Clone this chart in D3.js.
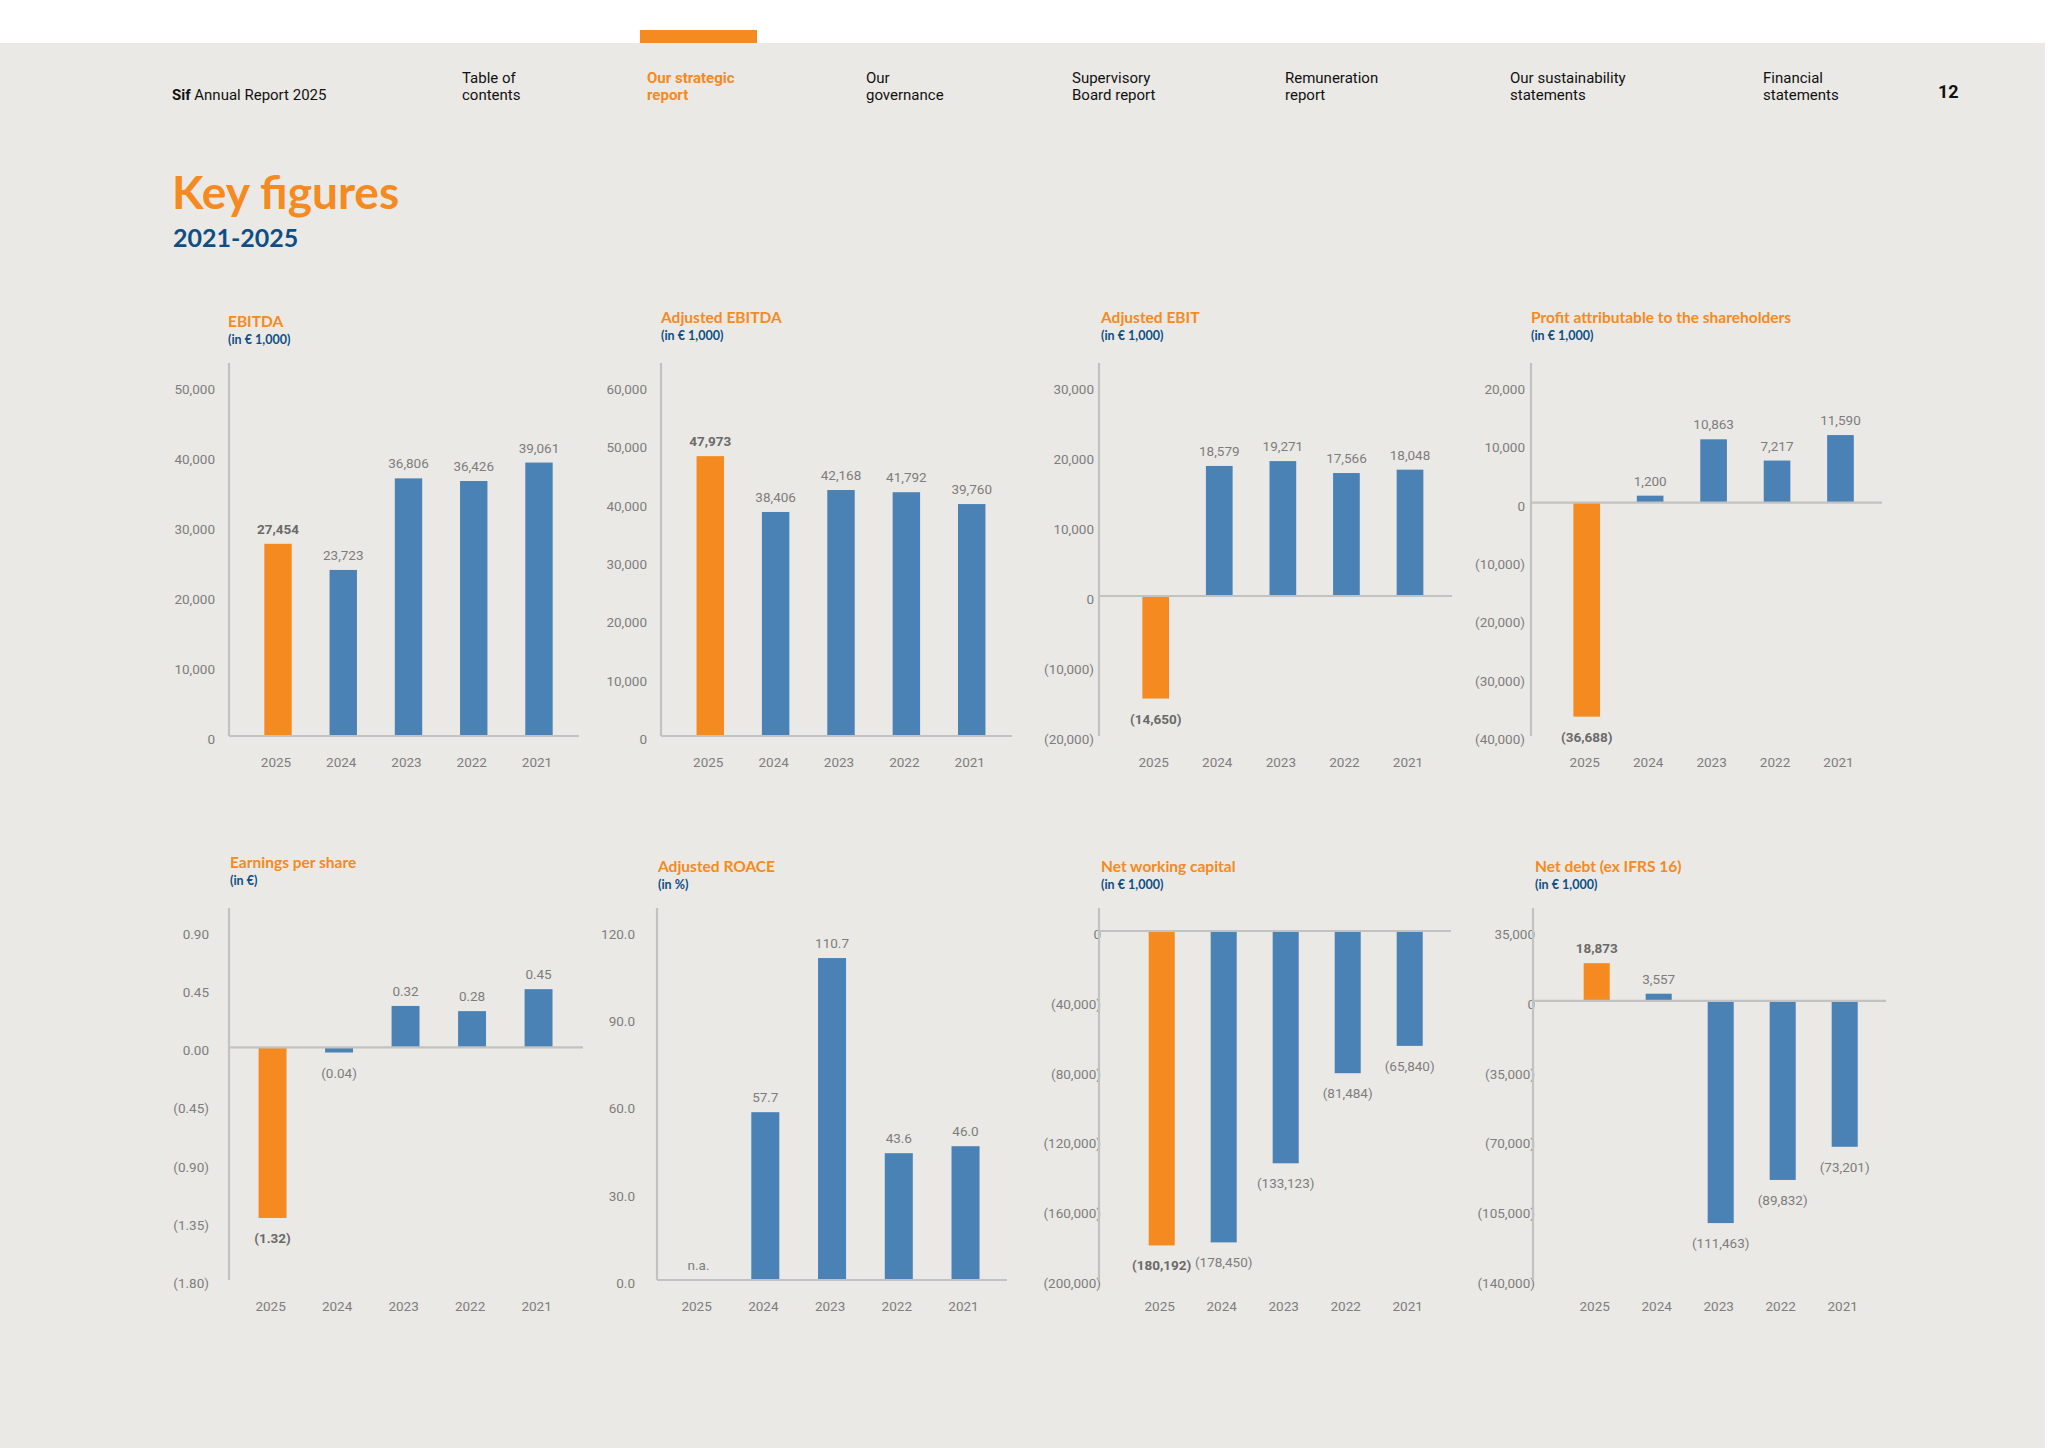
<!DOCTYPE html>
<html>
<head>
<meta charset="utf-8">
<script src="https://cdn.jsdelivr.net/npm/d3@7/dist/d3.min.js"></script>
<style>
  body { margin: 0; background: #fff; }
  svg { display: block; }
</style>
</head>
<body>
<svg width="2048" height="1448"></svg>
<script>
// data
var years = ["2025", "2024", "2023", "2022", "2021"]

var ebitda = [27454, 23723, 36806, 36426, 39061]
var adjEbitda = [47973, 38406, 42168, 41792, 39760]
var adjEbit = [-14650, 18579, 19271, 17566, 18048]
var profit = [-36688, 1200, 10863, 7217, 11590]
var eps = [-1.32, -0.04, 0.32, 0.28, 0.45]
var roace = [null, 57.7, 110.7, 43.6, 46.0]
var nwc = [-180192, -178450, -133123, -81484, -65840]
var netDebt = [18873, 3557, -111463, -89832, -73201]

var ebitdaTicks = [0, 10000, 20000, 30000, 40000, 50000]
var adjEbitdaTicks = [0, 10000, 20000, 30000, 40000, 50000, 60000]
var adjEbitTicks = [-20000, -10000, 0, 10000, 20000, 30000]
var profitTicks = [-40000, -30000, -20000, -10000, 0, 10000, 20000]
var epsTicks = [-1.8, -1.35, -0.9, -0.45, 0, 0.45, 0.9]
var roaceTicks = [0, 30, 60, 90, 120]
var nwcTicks = [-200000, -160000, -120000, -80000, -40000, 0]
var netDebtTicks = [-140000, -105000, -70000, -35000, 0, 35000]

var navItems = [
  ["Table of", "contents"],
  ["Our strategic", "report"],
  ["Our", "governance"],
  ["Supervisory", "Board report"],
  ["Remuneration", "report"],
  ["Our sustainability", "statements"],
  ["Financial", "statements"]
]

var paren = f => v => v < 0 ? "(" + f(-v) + ")" : f(v)
var fmt0 = paren(d3.format(",.0f")),
  fmt1 = paren(d3.format(".1f")),
  fmt2 = paren(d3.format(".2f"))

var charts = [
  { title: "EBITDA", unit: "(in € 1,000)", values: ebitda, ticks: ebitdaTicks, fmt: fmt0 },
  { title: "Adjusted EBITDA", unit: "(in € 1,000)", values: adjEbitda, ticks: adjEbitdaTicks, fmt: fmt0 },
  { title: "Adjusted EBIT", unit: "(in € 1,000)", values: adjEbit, ticks: adjEbitTicks, fmt: fmt0 },
  { title: "Profit attributable to the shareholders", unit: "(in € 1,000)", values: profit, ticks: profitTicks, fmt: fmt0 },
  { title: "Earnings per share", unit: "(in €)", values: eps, ticks: epsTicks, fmt: fmt2 },
  { title: "Adjusted ROACE", unit: "(in %)", values: roace, ticks: roaceTicks, fmt: fmt1 },
  { title: "Net working capital", unit: "(in € 1,000)", values: nwc, ticks: nwcTicks, fmt: fmt0 },
  { title: "Net debt (ex IFRS 16)", unit: "(in € 1,000)", values: netDebt, ticks: netDebtTicks, fmt: fmt0 }
]

// page layout (pixels)
var rows = [
  { bottom: 736, top: 386 },
  { bottom: 1280, top: 931 }
]
var layout = [
  { row: 0, ax: 229, ae: 579, b0: 245.4, b1: 571.6, lx: -14, tx: 228, ty: 327 },
  { row: 0, ax: 661, ae: 1012, b0: 677.6, b1: 1004.4, lx: -14, tx: 661, ty: 323 },
  { row: 0, ax: 1099, ae: 1452, b0: 1123.9, b1: 1441.8, lx: -5, tx: 1101, ty: 323 },
  { row: 0, ax: 1531, ae: 1882, b0: 1555, b1: 1872.2, lx: -6, tx: 1531, ty: 323 },
  { row: 1, ax: 229, ae: 583, b0: 239.3, b1: 571.8, lx: -20, tx: 230, ty: 868 },
  { row: 1, ax: 657, ae: 1007, b0: 665.2, b1: 998.9, lx: -22, tx: 658, ty: 872 },
  { row: 1, ax: 1099, ae: 1451, b0: 1130.7, b1: 1440.7, lx: 2, tx: 1101, ty: 872 },
  { row: 1, ax: 1533, ae: 1886, b0: 1565.7, b1: 1875.7, lx: 2, tx: 1535, ty: 872 }
]

var orange = "#F58A20",
  blue = "#4A82B5",
  navy = "#0D4F84",
  grey = "#7d7d7d",
  axisGrey = "#c2c2c2",
  numFont = "Roboto, 'Liberation Sans', sans-serif",
  headFont = "Lato, 'Open Sans', sans-serif"

var svg = d3.select("svg")

// page background + header band
svg.append("rect").attr("width", 2048).attr("height", 1448).attr("fill", "#EBE9E6")
svg.append("rect").attr("width", 2048).attr("height", 43).attr("fill", "#fff")
svg.append("rect").attr("x", 2045).attr("width", 3).attr("height", 1448).attr("fill", "#fff")
svg.append("rect").attr("x", 640).attr("y", 30).attr("width", 117).attr("height", 13)
  .attr("fill", orange)

var brand = svg.append("text")
  .attr("x", 172).attr("y", 100)
  .style("font-family", numFont).style("font-size", "15px").attr("fill", "#111")
brand.append("tspan").style("font-weight", 700).text("Sif")
brand.append("tspan").text(" Annual Report 2025")

var navX = [462, 647, 866, 1072, 1285, 1510, 1763]
navItems.forEach((lines, i) => {
  let t = svg.append("text")
    .attr("x", navX[i]).attr("y", 83)
    .style("font-family", numFont).style("font-size", "15px")
    .style("font-weight", i == 1 ? 700 : 400)
    .attr("fill", i == 1 ? orange : "#111")
  lines.forEach((l, j) => {
    t.append("tspan").attr("x", navX[i]).attr("y", 83 + j * 17).text(l)
  })
})

svg.append("text").attr("x", 1938).attr("y", 98)
  .style("font-family", numFont).style("font-size", "18px").style("font-weight", 700)
  .attr("fill", "#111").text("12")

svg.append("text").attr("x", 172).attr("y", 209)
  .style("font-family", headFont).style("font-size", "46px").style("font-weight", 700)
  .attr("fill", orange).text("Key figures")

svg.append("text").attr("x", 173).attr("y", 247)
  .style("font-family", headFont).style("font-size", "25px").style("font-weight", 700)
  .attr("fill", navy).text("2021-2025")

charts.forEach((c, i) => {
  let L = layout[i], R = rows[L.row]
  let g = svg.append("g")

  let x = d3.scaleBand().domain(years).range([L.b0, L.b1])
    .paddingInner(0.58).paddingOuter(0.29)
  let y = d3.scaleLinear().domain(d3.extent(c.ticks)).range([R.bottom, R.top])

  g.append("text").attr("x", L.tx).attr("y", L.ty)
    .style("font-family", headFont).style("font-size", "15.5px").style("font-weight", 700)
    .attr("fill", orange).text(c.title)
  g.append("text").attr("x", L.tx).attr("y", L.ty + 17)
    .style("font-family", headFont).style("font-size", "12.5px").style("font-weight", 700)
    .attr("fill", navy).text(c.unit)

  let yAxis = g.append("g")
    .attr("transform", `translate(${L.ax + L.lx},0)`)
    .call(d3.axisLeft(y).tickValues(c.ticks).tickSize(0).tickPadding(0).tickFormat(c.fmt))
  yAxis.select(".domain").remove()
  yAxis.attr("font-family", numFont).attr("font-size", 13.5).style("color", grey)
  yAxis.selectAll("text").attr("dy", "0.55em")

  let xAxis = g.append("g")
    .attr("transform", `translate(-2,${R.bottom + 31})`)
    .call(d3.axisBottom(x).tickSize(0).tickPadding(0))
  xAxis.select(".domain").remove()
  xAxis.attr("font-family", numFont).attr("font-size", 13.5).style("color", grey)
  xAxis.selectAll("text").attr("dy", 0)

  let data = years.map((yr, k) => ({ year: yr, v: c.values[k], k: k }))

  g.selectAll(".bar").data(data.filter(d => d.v != null)).enter()
    .append("rect").attr("class", "bar")
    .attr("x", d => x(d.year))
    .attr("width", x.bandwidth())
    .attr("y", d => d.v >= 0 ? y(d.v) : y(0))
    .attr("height", d => Math.abs(y(d.v) - y(0)))
    .attr("fill", d => d.k == 0 ? orange : blue)

  g.selectAll(".val").data(data).enter()
    .append("text").attr("class", "val")
    .attr("x", d => x(d.year) + x.bandwidth() / 2)
    .attr("y", d => d.v == null ? y(0) - 10 : d.v >= 0 ? y(d.v) - 10 : y(d.v) + 25)
    .attr("text-anchor", "middle")
    .style("font-family", numFont).style("font-size", "13.5px")
    .style("font-weight", d => d.k == 0 && d.v != null ? 700 : 400)
    .attr("fill", d => d.k == 0 && d.v != null ? "#6a6a6a" : grey)
    .text(d => d.v == null ? "n.a." : c.fmt(d.v))

  // axis lines
  g.append("line")
    .attr("x1", L.ax).attr("x2", L.ax)
    .attr("y1", y(d3.max(c.ticks)) - 23).attr("y2", y(d3.min(c.ticks)))
    .attr("stroke", axisGrey).attr("stroke-width", 2.2)
  g.append("line")
    .attr("x1", L.ax).attr("x2", L.ae)
    .attr("y1", y(0)).attr("y2", y(0))
    .attr("stroke", axisGrey).attr("stroke-width", 2.2)
})
</script>
</body>
</html>
